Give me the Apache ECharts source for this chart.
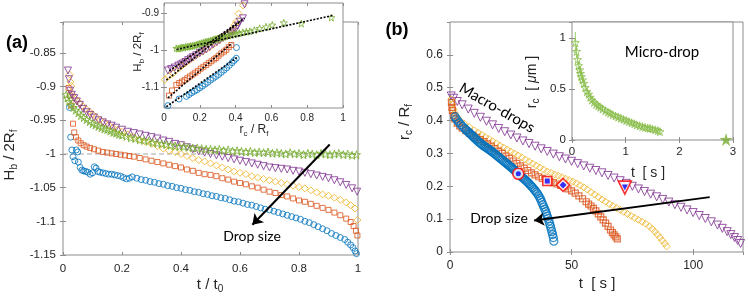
<!DOCTYPE html>
<html><head><meta charset="utf-8">
<script src="https://cdn.jsdelivr.net/npm/echarts@6/dist/echarts.min.js"></script>
<style>html,body{margin:0;padding:0;background:#fff}#c{width:748px;height:301px}</style>
</head><body><div id="c"></div>
<script>
// ---------------- Panel (a) main: H_b/2R_f vs t/t0 ----------------
const aBlue = [[0.022,-0.931],[0.026,-0.975],[0.030,-0.994],[0.034,-1.004],[0.040,-1.010],[0.045,-0.994],[0.050,-0.997],[0.052,-1.012],[0.058,-1.020],[0.064,-1.024],[0.070,-1.025],[0.077,-1.026],[0.084,-1.027],[0.092,-1.030],[0.100,-1.028],[0.106,-1.019],[0.112,-1.021],[0.118,-1.026],[0.125,-1.027],[0.135,-1.028],[0.145,-1.029],[0.155,-1.030],[0.165,-1.030],[0.175,-1.031],[0.185,-1.032],[0.195,-1.033],[0.205,-1.035],[0.215,-1.037],[0.225,-1.036],[0.235,-1.034],[0.25,-1.036],[0.265,-1.038],[0.28,-1.039],[0.295,-1.041],[0.31,-1.042],[0.325,-1.044],[0.34,-1.045],[0.355,-1.047],[0.37,-1.048],[0.385,-1.050],[0.40,-1.051],[0.415,-1.053],[0.43,-1.054],[0.445,-1.056],[0.46,-1.057],[0.475,-1.059],[0.49,-1.060],[0.505,-1.062],[0.52,-1.063],[0.535,-1.065],[0.55,-1.066],[0.565,-1.068],[0.58,-1.070],[0.595,-1.071],[0.61,-1.073],[0.625,-1.075],[0.64,-1.076],[0.655,-1.078],[0.67,-1.080],[0.685,-1.082],[0.70,-1.083],[0.715,-1.085],[0.73,-1.087],[0.745,-1.089],[0.76,-1.091],[0.775,-1.093],[0.79,-1.095],[0.805,-1.097],[0.82,-1.100],[0.835,-1.102],[0.85,-1.105],[0.865,-1.108],[0.88,-1.111],[0.895,-1.114],[0.91,-1.118],[0.925,-1.121],[0.94,-1.124],[0.955,-1.127],[0.965,-1.131],[0.975,-1.135],[0.983,-1.139],[0.99,-1.144],[0.995,-1.148]];
const aOrange = [[0.019,-0.902],[0.023,-0.913],[0.028,-0.928],[0.034,-0.955],[0.038,-0.968],[0.044,-0.975],[0.052,-0.980],[0.060,-0.984],[0.070,-0.987],[0.080,-0.989],[0.092,-0.991],[0.105,-0.993],[0.12,-0.995],[0.135,-0.997],[0.15,-0.998],[0.165,-0.999],[0.18,-1.000],[0.195,-1.001],[0.21,-1.002],[0.225,-1.003],[0.24,-1.004],[0.26,-1.006],[0.28,-1.008],[0.30,-1.010],[0.32,-1.012],[0.34,-1.014],[0.36,-1.016],[0.38,-1.018],[0.40,-1.020],[0.42,-1.023],[0.44,-1.025],[0.46,-1.028],[0.48,-1.030],[0.50,-1.031],[0.52,-1.033],[0.54,-1.036],[0.56,-1.038],[0.58,-1.041],[0.60,-1.043],[0.62,-1.045],[0.64,-1.048],[0.66,-1.050],[0.68,-1.053],[0.70,-1.056],[0.72,-1.058],[0.74,-1.061],[0.76,-1.063],[0.78,-1.066],[0.80,-1.069],[0.82,-1.071],[0.84,-1.074],[0.86,-1.077],[0.88,-1.080],[0.90,-1.083],[0.92,-1.087],[0.94,-1.091],[0.96,-1.096],[0.975,-1.101],[0.985,-1.107],[0.993,-1.114],[0.998,-1.121]];
const aYellow = [[0.022,-0.882],[0.025,-0.893],[0.028,-0.899],[0.033,-0.912],[0.040,-0.917],[0.048,-0.921],[0.057,-0.925],[0.067,-0.929],[0.078,-0.933],[0.09,-0.937],[0.10,-0.941],[0.112,-0.945],[0.125,-0.949],[0.14,-0.953],[0.155,-0.957],[0.17,-0.961],[0.185,-0.964],[0.20,-0.967],[0.22,-0.971],[0.24,-0.975],[0.26,-0.979],[0.28,-0.982],[0.30,-0.985],[0.32,-0.988],[0.34,-0.992],[0.36,-0.995],[0.38,-0.997],[0.40,-1.000],[0.42,-1.003],[0.44,-1.006],[0.46,-1.009],[0.48,-1.011],[0.50,-1.014],[0.52,-1.017],[0.54,-1.020],[0.56,-1.023],[0.58,-1.026],[0.60,-1.028],[0.62,-1.030],[0.64,-1.033],[0.66,-1.035],[0.68,-1.037],[0.70,-1.039],[0.72,-1.041],[0.74,-1.043],[0.76,-1.045],[0.78,-1.047],[0.80,-1.049],[0.82,-1.051],[0.84,-1.054],[0.86,-1.057],[0.88,-1.060],[0.90,-1.062],[0.92,-1.065],[0.94,-1.068],[0.96,-1.072],[0.975,-1.076],[0.99,-1.081],[0.998,-1.098]];
const aPurple = [[0.017,-0.876],[0.020,-0.889],[0.024,-0.906],[0.030,-0.912],[0.038,-0.917],[0.047,-0.922],[0.057,-0.927],[0.068,-0.933],[0.08,-0.938],[0.092,-0.942],[0.105,-0.946],[0.12,-0.950],[0.135,-0.953],[0.15,-0.956],[0.165,-0.958],[0.18,-0.961],[0.20,-0.964],[0.22,-0.967],[0.24,-0.969],[0.26,-0.971],[0.28,-0.973],[0.30,-0.975],[0.32,-0.977],[0.34,-0.980],[0.36,-0.982],[0.38,-0.985],[0.40,-0.987],[0.42,-0.990],[0.44,-0.993],[0.46,-0.996],[0.48,-0.998],[0.50,-1.000],[0.52,-1.002],[0.54,-1.004],[0.56,-1.006],[0.58,-1.008],[0.60,-1.010],[0.62,-1.012],[0.64,-1.014],[0.66,-1.016],[0.68,-1.018],[0.70,-1.020],[0.72,-1.021],[0.74,-1.022],[0.76,-1.023],[0.78,-1.025],[0.80,-1.026],[0.82,-1.028],[0.84,-1.030],[0.86,-1.032],[0.88,-1.034],[0.90,-1.036],[0.92,-1.039],[0.94,-1.042],[0.96,-1.046],[0.98,-1.051],[0.997,-1.056]];
const aGreen = [[0.011,-0.912],[0.015,-0.917],[0.02,-0.922],[0.027,-0.927],[0.035,-0.931],[0.043,-0.935],[0.052,-0.939],[0.061,-0.943],[0.07,-0.946],[0.08,-0.949],[0.09,-0.952],[0.10,-0.955],[0.11,-0.957],[0.12,-0.959],[0.13,-0.961],[0.14,-0.963],[0.15,-0.964],[0.16,-0.966],[0.17,-0.968],[0.18,-0.969],[0.19,-0.971],[0.20,-0.972],[0.215,-0.974],[0.23,-0.976],[0.245,-0.977],[0.26,-0.979],[0.275,-0.980],[0.29,-0.981],[0.305,-0.983],[0.32,-0.984],[0.335,-0.985],[0.35,-0.986],[0.365,-0.987],[0.38,-0.988],[0.395,-0.989],[0.41,-0.989],[0.425,-0.990],[0.44,-0.991],[0.455,-0.991],[0.47,-0.992],[0.485,-0.993],[0.50,-0.993],[0.515,-0.994],[0.53,-0.993],[0.545,-0.995],[0.56,-0.994],[0.575,-0.996],[0.59,-0.995],[0.605,-0.996],[0.62,-0.997],[0.635,-0.996],[0.65,-0.998],[0.665,-0.997],[0.68,-0.998],[0.695,-0.997],[0.71,-0.999],[0.725,-0.998],[0.74,-0.999],[0.755,-1.000],[0.77,-0.998],[0.785,-1.000],[0.80,-0.999],[0.815,-1.001],[0.83,-0.999],[0.845,-1.000],[0.86,-1.001],[0.875,-0.999],[0.89,-1.000],[0.905,-1.001],[0.92,-1.000],[0.935,-0.999],[0.95,-1.001],[0.965,-1.000],[0.98,-1.002],[0.995,-1.001]];
const aRefLine = [[0,-1],[1,-1]];
const aArrow = [[0.904,-0.986],[0.642,-1.105]];

// ---------------- Panel (a) inset: H_b/2R_f vs r_c/R_f ----------------
const iBlue = [[0.022,-1.149],[0.084,-1.131],[0.125,-1.124],[0.14,-1.119],[0.155,-1.114],[0.17,-1.110],[0.185,-1.106],[0.2,-1.101],[0.215,-1.096],[0.23,-1.091],[0.245,-1.086],[0.26,-1.080],[0.275,-1.075],[0.29,-1.070],[0.305,-1.065],[0.32,-1.059],[0.335,-1.053],[0.35,-1.047],[0.365,-1.040],[0.38,-1.033],[0.392,-1.027],[0.404,-1.021],[0.405,-0.992]];
const iOrange = [[0.028,-1.122],[0.045,-1.108],[0.069,-1.093],[0.085,-1.088],[0.1,-1.084],[0.115,-1.080],[0.13,-1.075],[0.145,-1.070],[0.16,-1.065],[0.175,-1.060],[0.19,-1.055],[0.205,-1.049],[0.22,-1.044],[0.236,-1.039],[0.25,-1.034],[0.265,-1.029],[0.28,-1.024],[0.292,-1.020],[0.305,-1.014],[0.32,-1.008],[0.335,-1.003],[0.348,-0.998],[0.362,-0.991],[0.376,-0.985]];
const iYellow = [[0.004,-1.079],[0.028,-1.069],[0.05,-1.062],[0.069,-1.052],[0.085,-1.047],[0.1,-1.041],[0.12,-1.034],[0.143,-1.026],[0.165,-1.019],[0.19,-1.010],[0.215,-1.003],[0.236,-0.997],[0.26,-0.989],[0.285,-0.980],[0.311,-0.972],[0.335,-0.963],[0.358,-0.954],[0.372,-0.947],[0.385,-0.940],[0.395,-0.930],[0.404,-0.922],[0.417,-0.900],[0.441,-0.878]];
const iPurple = [[0.022,-1.054],[0.04,-1.050],[0.06,-1.046],[0.08,-1.041],[0.095,-1.038],[0.106,-1.035],[0.12,-1.031],[0.135,-1.026],[0.15,-1.022],[0.162,-1.018],[0.18,-1.013],[0.2,-1.007],[0.218,-1.002],[0.236,-0.997],[0.255,-0.991],[0.275,-0.984],[0.295,-0.977],[0.311,-0.972],[0.33,-0.966],[0.35,-0.960],[0.37,-0.954],[0.385,-0.949],[0.4,-0.942],[0.412,-0.933],[0.423,-0.922],[0.441,-0.913],[0.45,-0.875]];
const iGreen = [[0.069,-0.994],[0.08,-0.995],[0.09,-0.993],[0.1,-0.992],[0.11,-0.992],[0.12,-0.990],[0.13,-0.990],[0.14,-0.989],[0.15,-0.988],[0.16,-0.987],[0.17,-0.986],[0.18,-0.985],[0.19,-0.983],[0.2,-0.982],[0.21,-0.980],[0.22,-0.979],[0.23,-0.977],[0.24,-0.976],[0.25,-0.975],[0.26,-0.973],[0.27,-0.972],[0.28,-0.970],[0.29,-0.969],[0.3,-0.968],[0.31,-0.966],[0.32,-0.964],[0.33,-0.963],[0.345,-0.961],[0.36,-0.959],[0.375,-0.958],[0.39,-0.956],[0.405,-0.954],[0.42,-0.953],[0.44,-0.951],[0.46,-0.949],[0.479,-0.948],[0.505,-0.945],[0.534,-0.940],[0.57,-0.936],[0.605,-0.931],[0.669,-0.925],[0.767,-0.927],[0.935,-0.911]];
const fitBlue = [[0.013,-1.152],[0.413,-1.017]];
const fitOrange = [[0.022,-1.128],[0.38,-0.980]];
const fitYellow = [[0.013,-1.080],[0.43,-0.920]];
const fitPurple = [[0.03,-1.055],[0.45,-0.912]];
const fitGreen = [[0.07,-0.997],[0.945,-0.905]];
const iYTicks = [-1.1, -1, -0.9];

// ---------------- Panel (b) main: r_c/R_f vs t [s] ----------------
const bPurple = [[0.5,0.475],[1.5,0.468],[3,0.458],[5,0.448],[7.5,0.435],[10,0.422],[12.5,0.41],[15,0.398],[17.5,0.387],[20,0.376],[22.5,0.366],[25,0.356],[27.5,0.347],[30,0.338],[32.5,0.33],[35,0.322],[37.5,0.314],[40,0.306],[42.5,0.298],[45,0.29],[47.5,0.283],[50,0.276],[52.5,0.269],[55,0.262],[57.5,0.255],[60,0.248],[62.5,0.241],[65,0.233],[67.5,0.225],[70,0.217],[72.5,0.209],[75,0.2],[77.5,0.192],[80,0.184],[82.5,0.176],[85,0.168],[87.5,0.16],[90,0.152],[92.5,0.144],[95,0.136],[97.5,0.128],[100,0.12],[102.5,0.111],[105,0.102],[107.5,0.092],[110,0.082],[112,0.072],[114,0.062],[115.5,0.053],[117,0.044],[118.3,0.035],[119.5,0.026]];
const bYellow = [[0.5,0.465],[1,0.45],[1.5,0.435],[2,0.423],[3,0.41],[4.5,0.398],[6,0.39],[8,0.38],[10,0.37],[11.5,0.363],[13,0.357],[14.5,0.35],[16,0.344],[17.5,0.337],[19,0.331],[20.5,0.324],[22,0.318],[23.5,0.312],[25,0.306],[26.5,0.3],[28,0.294],[29.5,0.288],[31,0.281],[32.5,0.275],[34,0.269],[35.5,0.263],[37,0.257],[38.5,0.251],[40,0.245],[41.5,0.241],[43,0.236],[44.5,0.232],[46,0.228],[47.5,0.223],[49,0.219],[50.5,0.214],[52,0.209],[53.5,0.203],[55,0.197],[56.5,0.19],[58,0.182],[59.5,0.175],[61,0.167],[62.5,0.16],[64,0.153],[65.5,0.146],[67,0.14],[68.5,0.134],[70,0.128],[71.5,0.122],[73,0.116],[74.5,0.11],[76,0.104],[77.5,0.098],[79,0.092],[80.5,0.086],[82,0.078],[83.2,0.07],[84.3,0.062],[85.3,0.053],[86.3,0.044],[87.3,0.035],[88.3,0.026],[89.1,0.017]];
const bOrange = [[0.6,0.455],[0.8,0.44],[1,0.43],[1.5,0.415],[2,0.405],[3,0.392],[4,0.384],[5,0.377],[6.5,0.369],[8,0.362],[9.5,0.355],[11,0.349],[12.5,0.342],[14,0.336],[15.5,0.329],[17,0.322],[18.5,0.315],[20,0.307],[21.5,0.3],[23,0.292],[24.5,0.285],[26,0.277],[27.5,0.27],[29,0.262],[30.5,0.255],[32,0.248],[33.5,0.241],[35,0.235],[36.5,0.229],[38,0.224],[39.5,0.219],[41,0.215],[42.5,0.211],[44,0.207],[45.5,0.203],[47,0.198],[48.5,0.192],[50,0.186],[51.5,0.179],[53,0.171],[54.5,0.162],[56,0.153],[57,0.146],[58,0.14],[59,0.133],[60,0.125],[61,0.116],[62,0.107],[63,0.098],[64,0.088],[65,0.078],[66,0.067],[66.8,0.059],[67.5,0.052],[68.2,0.046],[68.8,0.04]];
const bBlue = [[2.1,0.412],[2.6,0.405],[3.2,0.399],[3.8,0.393],[4.5,0.387],[5.2,0.382],[6,0.376],[6.5,0.372],[7,0.369],[7.5,0.365],[8,0.362],[8.5,0.358],[9,0.355],[9.5,0.351],[10,0.348],[10.5,0.344],[11,0.341],[11.5,0.337],[12,0.334],[12.5,0.331],[13,0.328],[13.5,0.325],[14,0.322],[14.5,0.32],[15,0.317],[15.5,0.315],[16,0.312],[16.5,0.31],[17,0.307],[17.5,0.304],[18,0.301],[18.5,0.298],[19,0.295],[19.5,0.292],[20,0.289],[20.5,0.286],[21,0.283],[21.5,0.28],[22,0.277],[22.5,0.274],[23,0.271],[23.5,0.268],[24,0.265],[24.5,0.262],[25,0.259],[25.5,0.256],[26,0.252],[26.5,0.249],[27,0.245],[27.5,0.242],[28,0.238],[28.5,0.235],[29,0.231],[29.5,0.228],[30,0.225],[30.5,0.222],[31,0.219],[31.5,0.215],[32,0.212],[32.5,0.208],[33,0.204],[33.5,0.2],[34,0.196],[34.5,0.191],[35,0.187],[35.5,0.182],[36,0.177],[36.5,0.171],[37,0.164],[37.4,0.158],[37.8,0.151],[38.2,0.144],[38.6,0.137],[39,0.13],[39.4,0.123],[39.7,0.116],[40,0.109],[40.3,0.102],[40.7,0.094],[41,0.086],[41.3,0.078],[41.6,0.07],[41.9,0.062],[42.2,0.053],[42.5,0.044],[42.7,0.033]];
const bSpecialT = [28.1, 40.0, 46.5, 71.9];
const bSpecialR = [0.238, 0.216, 0.204, 0.196];
const bArrow = [[106.8,0.167],[34.6,0.096]];

// ---------------- Panel (b) inset: micro-drop r_c [um] vs t [s] ----------------
const mT = [0.062,0.085,0.105,0.125,0.142,0.158,0.173,0.195,0.217,0.245,0.278,0.31,0.34,0.371,0.41,0.45,0.49,0.526,0.57,0.62,0.67,0.711,0.76,0.81,0.86,0.91,0.959,1.01,1.06,1.11,1.16,1.206,1.26,1.31,1.36,1.41,1.453,1.5,1.55,1.6,1.639];
const mR = [0.957,0.87,0.79,0.73,0.689,0.655,0.623,0.59,0.557,0.515,0.475,0.45,0.42,0.393,0.37,0.35,0.335,0.321,0.305,0.288,0.274,0.262,0.248,0.236,0.225,0.214,0.203,0.192,0.181,0.17,0.16,0.148,0.14,0.131,0.124,0.118,0.115,0.108,0.1,0.092,0.082];
const mErr = [0.105,0.06,0.05,0.04,0.035,0.03,0.03,0.03,0.03,0.025,0.025,0.025,0.02,0.02,0.02,0.02,0.02,0.02,0.02,0.02,0.02,0.02,0.02,0.02,0.02,0.02,0.02,0.02,0.02,0.02,0.02,0.02,0.02,0.02,0.02,0.02,0.02,0.02,0.02,0.02,0.02];
const mFinal = [[2.87, 0.005]];

// ---------------- styling ----------------
const C = {blue:'#0072BD', orange:'#D95319', yellow:'#EDB120', purple:'#7E2F8E', green:'#77AC30'};
const STAR = 'path://M12,0 L14.8,8.6 L24,8.6 L16.6,14 L19.4,22.8 L12,17.4 L4.6,22.8 L7.4,14 L0,8.6 L9.2,8.6 Z';
const AX = '#8c8c8c', TXT = '#262626', TF = 'Liberation Sans', CF = 'Lato';

function xa(grid, min, max, interval, fs, margin, z, extra) {
  return Object.assign({type:'value', gridIndex:grid, min, max, interval, z, silent:true,
    axisLine:{show:false}, splitLine:{show:false},
    axisTick:{show:true, inside:true, length:3, lineStyle:{color:AX}},
    axisLabel:{fontFamily:TF, fontSize:fs, color:TXT, margin, showMaxLabel:true, showMinLabel:true}}, extra || {});
}
function sc(data, xi, yi, symbol, size, color, z, rot, bw) {
  return {type:'scatter', data, xAxisIndex:xi, yAxisIndex:yi, symbol, symbolSize:size, symbolRotate:rot || 0,
    z, silent:true, itemStyle:{color:'rgba(0,0,0,0)', borderColor:color, borderWidth:bw || 1}};
}
function fit(data) {
  return {type:'line', data, xAxisIndex:1, yAxisIndex:1, z:13, symbol:'none', silent:true,
    lineStyle:{color:'#000', width:1.6, type:[2,1.5]}};
}

const topHide = {position:'top', axisLabel:{show:false}};
const rightHide = {position:'right', axisLabel:{show:false}};

const xAxes = [
  xa(0, 0, 1, 0.2, 11.5, 8, 1),
  xa(1, 0, 1, 0.2, 10, 5, 11),
  xa(2, 0, 120.5, 50, 12, 8, 1),
  xa(3, 0, 3, 1, 11.5, 6, 11),
  xa(0, 0, 1, 0.2, 11, 8, 1, topHide),
  xa(1, 0, 1, 0.2, 10, 5, 11, topHide),
  xa(2, 0, 120.5, 50, 12, 8, 1, topHide),
  xa(3, 0, 3, 1, 11, 6, 11, topHide)
];
xAxes[2].axisLabel.showMaxLabel = false;
const yAxes = [
  xa(0, -1.15, -0.804, 0.05, 11.5, 7, 1),
  xa(1, -1.1554, -0.8715, null, 10, 5, 11),
  xa(2, 0, 0.7, 0.1, 12, 7, 1),
  xa(3, 0, 1.16, 0.5, 11.5, 6, 11),
  xa(0, -1.15, -0.804, 0.05, 11, 7, 1, rightHide),
  xa(1, -1.1554, -0.8715, null, 10, 5, 11, rightHide),
  xa(2, 0, 0.7, 0.1, 12, 7, 1, rightHide),
  xa(3, 0, 1.16, 0.5, 11, 6, 11, rightHide)
];
yAxes[0].axisLabel.showMaxLabel = false;
yAxes[2].axisLabel.showMaxLabel = false;
yAxes[3].axisLabel.showMaxLabel = false;
[1,5].forEach(i => { delete yAxes[i].interval;
  yAxes[i].axisLabel.customValues = iYTicks; yAxes[i].axisTick.customValues = iYTicks; });

const gridStyle = {show:true, borderColor:AX, borderWidth:1, backgroundColor:'#fff'};
const grids = [
  Object.assign({left:63, top:22, width:295, height:233, z:0}, gridStyle),
  Object.assign({left:164, top:3, width:179, height:105, z:10}, gridStyle),
  Object.assign({left:450, top:22, width:293, height:230, z:0}, gridStyle),
  Object.assign({left:572, top:22, width:161, height:118, z:10}, gridStyle)
];

const arrowMark = (pts) => ({silent:true, symbol:['none','arrow'], symbolSize:10,
  label:{show:false}, itemStyle:{color:'#000'}, lineStyle:{color:'#000', width:2, type:'solid'},
  data:[[{coord:pts[0]},{coord:pts[1]}]]});

const series = [
  // (a) main
  {type:'line', data:aRefLine, xAxisIndex:0, yAxisIndex:0, z:1, symbol:'none', silent:true,
    lineStyle:{color:'#a6a6a6', width:1.2, type:[5,3]}},
  sc(aBlue, 0, 0, 'circle', 6, C.blue, 2),
  sc(aOrange, 0, 0, 'rect', 5, C.orange, 2),
  sc(aYellow, 0, 0, 'diamond', 7, C.yellow, 2),
  sc(aPurple, 0, 0, 'triangle', 7, C.purple, 2, 180),
  sc(aGreen, 0, 0, STAR, 8, C.green, 2),
  {type:'line', data:[], xAxisIndex:0, yAxisIndex:0, z:3, silent:true, symbol:'none', markLine:arrowMark(aArrow)},
  // (a) inset
  sc(iBlue, 1, 1, 'circle', 6, C.blue, 12),
  sc(iOrange, 1, 1, 'rect', 5, C.orange, 12),
  sc(iYellow, 1, 1, 'diamond', 7, C.yellow, 12),
  sc(iPurple, 1, 1, 'triangle', 7, C.purple, 12, 180),
  sc(iGreen, 1, 1, STAR, 7, C.green, 12),
  fit(fitBlue), fit(fitOrange), fit(fitYellow), fit(fitPurple), fit(fitGreen),
  // (b) main
  sc(bPurple, 2, 2, 'triangle', 8, C.purple, 2, 180),
  sc(bYellow, 2, 2, 'diamond', 7, C.yellow, 2),
  sc(bOrange, 2, 2, 'rect', 6, C.orange, 2, 0, 1.2),
  sc(bBlue, 2, 2, 'circle', 8, C.blue, 2, 0, 1.2),
  {type:'scatter', xAxisIndex:2, yAxisIndex:2, z:4, silent:true,
    data:[
      {value:[bSpecialT[0], bSpecialR[0]], symbol:'circle', symbolSize:11},
      {value:[bSpecialT[1], bSpecialR[1]], symbol:'rect', symbolSize:9},
      {value:[bSpecialT[2], bSpecialR[2]], symbol:'diamond', symbolSize:13},
      {value:[bSpecialT[3], bSpecialR[3]], symbol:'triangle', symbolSize:13, symbolRotate:180}
    ], itemStyle:{color:'#fff', borderColor:'#ff0000', borderWidth:1.6}},
  {type:'scatter', xAxisIndex:2, yAxisIndex:2, z:5, silent:true,
    data:[
      {value:[bSpecialT[0], bSpecialR[0]], symbol:'circle', symbolSize:5},
      {value:[bSpecialT[1], bSpecialR[1]], symbol:'rect', symbolSize:5},
      {value:[bSpecialT[2], bSpecialR[2]], symbol:'diamond', symbolSize:7},
      {value:[bSpecialT[3], bSpecialR[3]], symbol:'triangle', symbolSize:6, symbolRotate:180}
    ], itemStyle:{color:'#0000ff'}},
  {type:'line', data:[], xAxisIndex:2, yAxisIndex:2, z:6, silent:true, symbol:'none', markLine:arrowMark(bArrow)},
  // (b) inset
  {type:'custom', xAxisIndex:3, yAxisIndex:3, z:12, silent:true,
    data: mT.map((t, i) => [t, mR[i], mErr[i]]),
    renderItem: (params, api) => {
      const x = api.value(0), y = api.value(1), e = api.value(2);
      const p1 = api.coord([x, y - e]), p2 = api.coord([x, y + e]);
      return {type:'line', shape:{x1:p1[0], y1:p1[1], x2:p2[0], y2:p2[1]}, style:{stroke:'#9ccc6c', lineWidth:1}};
    }},
  sc(mT.map((t, i) => [t, mR[i]]), 3, 3, STAR, 8, '#86bb45', 13),
  {type:'scatter', data:mFinal, xAxisIndex:3, yAxisIndex:3, z:13, silent:true, symbol:STAR, symbolSize:13,
    itemStyle:{color:C.green}}
];

const sub = (fs, pad) => ({fontSize:fs, fontFamily:TF, fill:TXT, padding:[pad,0,0,0]});
function label(x, y, text, fs, rot, extraRich) {
  return {type:'text', x, y, rotation:rot || 0, z:30, silent:true,
    style:{text, align:'center', verticalAlign:'middle', fill:TXT,
      rich:Object.assign({n:{fontSize:fs, fontFamily:TF, fill:TXT}, s:sub(Math.round(fs*0.68), Math.round(fs*0.62))}, extraRich || {})}};
}
function plain(x, y, text, fs, rot, font, weight) {
  return {type:'text', x, y, rotation:rot || 0, z:30, silent:true,
    style:{text, align:'center', verticalAlign:'middle', fill:'#000', fontSize:fs, fontFamily:font, fontWeight:weight || 'normal'}};
}

const graphics = [
  plain(17, 43, '(a)', 18, 0, TF, 'bold'),
  plain(397, 30, '(b)', 18, 0, TF, 'bold'),
  label(10, 155, '{n|H}{s|b}{n| / 2R}{s|f}', 15, Math.PI/2),
  label(210, 285, '{n|t / t}{s|0}', 15, 0),
  label(138, 52, '{n|H}{s|b}{n| / 2R}{s|f}', 11.5, Math.PI/2),
  label(254, 130, '{n|r}{s|c}{n| / R}{s|f}', 12, 0),
  label(405, 122, '{n|r}{s|c}{n| / R}{s|f}', 15, Math.PI/2),
  label(597, 284, '{n|t  [ s ]}', 15, 0),
  label(648, 173, '{n|t  [ s ]}', 14, 0),
  label(532, 82, '{n|r}{s|c}{n|  [ }{i|μ}{n|m ]}', 14, Math.PI/2, {i:{fontSize:14, fontFamily:TF, fontStyle:'italic', fill:TXT}}),
  plain(252, 236, 'Drop size', 14, 0, CF),
  plain(499, 218, 'Drop size', 14, 0, CF),
  plain(662, 52, 'Micro-drop', 15, 0, CF),
  plain(497, 108, 'Macro-drops', 15, -Math.PI/6, CF)
];

const chart = echarts.init(document.getElementById('c'), null, {renderer:'canvas'});
chart.setOption({
  animation:false,
  backgroundColor:'#fff',
  grid:grids, xAxis:xAxes, yAxis:yAxes, series, graphic:graphics
});
</script></body></html>
